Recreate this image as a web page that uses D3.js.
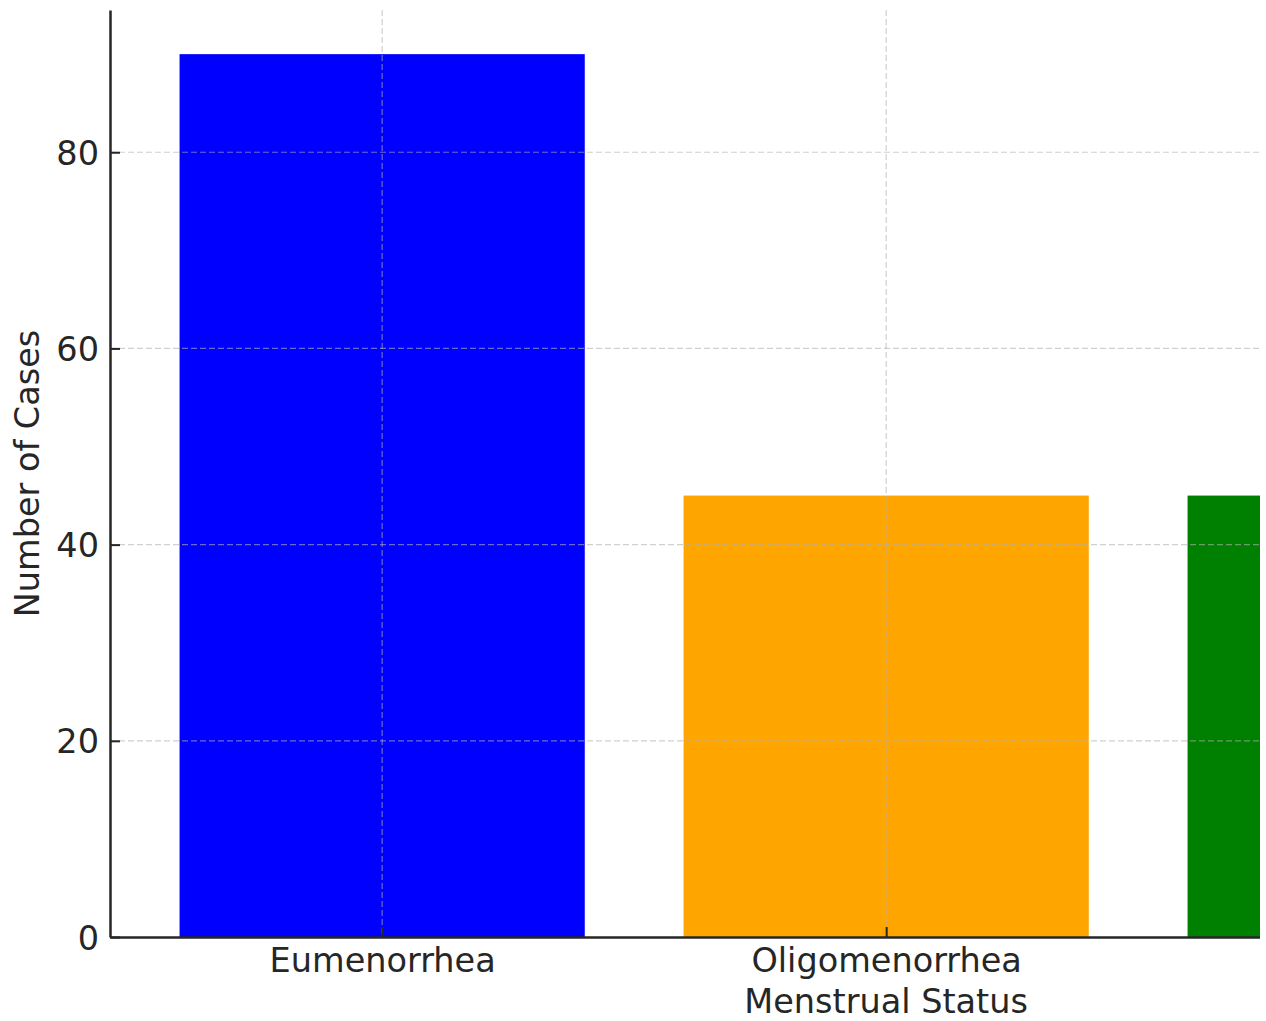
<!DOCTYPE html>
<html>
<head>
<meta charset="utf-8">
<script src="https://cdn.jsdelivr.net/npm/d3@7"></script>
<style>
  html, body { margin: 0; padding: 0; background: #ffffff; }
  svg { display: block; }
  text { font-family: "DejaVu Sans", sans-serif; fill: #262626; }
</style>
</head>
<body>
<div id="chart"></div>
<script>
// Cases by menstrual status
const categories = ["Eumenorrhea", "Oligomenorrhea", "Amenorrhea"];
const cases = [90, 45, 45];
const barColors = ["#0000ff", "#ffa500", "#008000"];
const yTicks = [0, 20, 40, 60, 80];

const W = 1266, H = 1021;
const plotLeft = 110, plotBottom = 937, plotTop = 10, clipRight = 1260;
const barWidth = 0.8;
const fontSize = 33.5;

const svg = d3.select("#chart").append("svg")
  .attr("width", W).attr("height", H);

// Positional x scale over category indices, with a 5% margin on each side
const span = categories.length - 1 + barWidth;
const xMin = -barWidth / 2 - 0.05 * span;
const xMax = categories.length - 1 + barWidth / 2 + 0.05 * span;
const x = d3.scaleLinear().domain([xMin, xMax]).range([plotLeft, plotLeft + 504 * (xMax - xMin)]);
const yMax = d3.max(cases) * 1.05;
const y = d3.scaleLinear().domain([0, yMax]).range([plotBottom, plotTop]);

svg.append("defs").append("clipPath").attr("id", "plot-clip")
  .append("rect").attr("x", 0).attr("y", 0).attr("width", clipRight).attr("height", H);

const plot = svg.append("g").attr("clip-path", "url(#plot-clip)");

// Bars
plot.selectAll("rect.bar").data(categories).join("rect")
  .attr("class", "bar")
  .attr("x", (d, i) => x(i - barWidth / 2) - 1)
  .attr("width", (d, i) => x(i + barWidth / 2) - x(i - barWidth / 2) + 2)
  .attr("y", (d, i) => y(cases[i]))
  .attr("height", (d, i) => y(0) - y(cases[i]))
  .attr("fill", (d, i) => barColors[i]);

// Dashed grid on top of the bars
const grid = plot.append("g")
  .attr("stroke", "#b0b0b0").attr("stroke-opacity", 0.6)
  .attr("stroke-width", 1.2).attr("stroke-dasharray", "6,3");
grid.selectAll("line.h").data(yTicks.filter(t => t > 0)).join("line")
  .attr("class", "h")
  .attr("x1", plotLeft).attr("x2", x(xMax))
  .attr("y1", d => y(d)).attr("y2", d => y(d));
grid.selectAll("line.v").data(categories.map((d, i) => i)).join("line")
  .attr("class", "v")
  .attr("x1", d => x(d)).attr("x2", d => x(d))
  .attr("y1", plotTop).attr("y2", plotBottom);

// Axes with inward ticks; only ticks inside the visible area are labelled
const visibleTicks = categories.map((d, i) => i).filter(i => x(i) < clipRight);
const xAxis = d3.axisBottom(x)
  .tickValues(visibleTicks)
  .tickFormat(i => categories[i])
  .tickSizeInner(-10).tickSizeOuter(0).tickPadding(24);
const gx = plot.append("g").attr("transform", `translate(0,${plotBottom})`).call(xAxis);
gx.select(".domain").attr("stroke", "#262626").attr("stroke-width", 2.5);
gx.selectAll(".tick line").attr("stroke", "#262626").attr("stroke-width", 2);
gx.selectAll(".tick text").attr("font-size", fontSize).attr("fill", "#262626")
  .attr("font-family", "DejaVu Sans, sans-serif")
  .attr("dy", "0.71em").attr("y", 11);

const yAxis = d3.axisLeft(y)
  .tickValues(yTicks)
  .tickSizeInner(-10).tickSizeOuter(0).tickPadding(10);
const gy = svg.append("g").attr("transform", `translate(${plotLeft},0)`).call(yAxis);
gy.select(".domain").attr("stroke", "#262626").attr("stroke-width", 2.5);
gy.selectAll(".tick line").attr("stroke", "#262626").attr("stroke-width", 2);
gy.selectAll(".tick text").attr("font-size", fontSize).attr("fill", "#262626")
  .attr("font-family", "DejaVu Sans, sans-serif")
  .attr("x", -11).attr("dy", "0.36em");

// Axis titles
svg.append("text")
  .attr("x", (x(xMin) + x(xMax)) / 2).attr("y", 1013)
  .attr("text-anchor", "middle").attr("font-size", fontSize)
  .text("Menstrual Status");
svg.append("text")
  .attr("transform", `translate(39,${(plotTop + plotBottom) / 2}) rotate(-90)`)
  .attr("text-anchor", "middle").attr("font-size", fontSize)
  .text("Number of Cases");
</script>
</body>
</html>
